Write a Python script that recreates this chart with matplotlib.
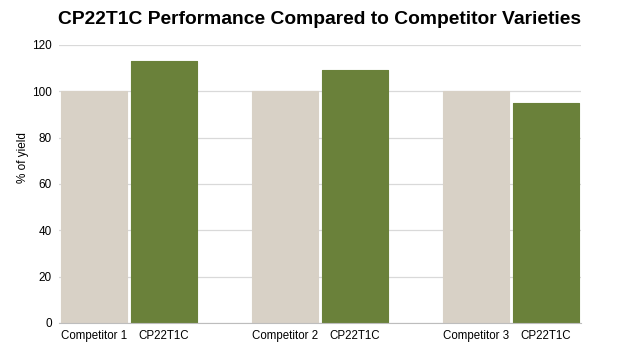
import numpy as np
import matplotlib
matplotlib.use('Agg')
import matplotlib.pyplot as plt

plt.rcParams['font.family'] = ['Liberation Sans', 'DejaVu Sans']

groups = ['Competitor 1', 'Competitor 2', 'Competitor 3']
competitor_vals = [100, 100, 100]
cp_vals = [113, 109, 95]
cp_name = 'CP22T1C'
yticks = [0, 20, 40, 60, 80, 100, 120]

beige = '#d8d1c6'
green = '#6a813a'

fig = plt.figure(figsize=(6.2, 3.51), dpi=100)
ax = fig.add_axes([0.095, 0.08, 0.842, 0.792])

x = np.arange(len(groups))
w = 0.345
gap = 0.02
ax.bar(x - w / 2 - gap / 2, competitor_vals, w, color=beige, edgecolor=beige,
       linewidth=0.8, joinstyle='round', zorder=3)
ax.bar(x + w / 2 + gap / 2, cp_vals, w, color=green, edgecolor=green,
       linewidth=0.8, joinstyle='round', zorder=3)

ax.set_xlim(-0.365, 2.365)
ax.set_ylim(0, 120)
ax.set_yticks(yticks)
ax.tick_params(axis='y', length=0, labelsize=8.5, pad=5)
pos = np.concatenate([[xi - w / 2 - gap / 2, xi + w / 2 + gap / 2] for xi in x])
labels = []
for g in groups:
    labels += [g, cp_name]
ax.set_xticks(pos)
ax.set_xticklabels(labels, fontsize=8.3)
ax.tick_params(axis='x', length=0, pad=5)

ax.grid(axis='y', color='#d9d9d9', linewidth=0.9, zorder=0)
for s in ['top', 'right', 'left']:
    ax.spines[s].set_visible(False)
ax.spines['bottom'].set_color('#bdbdbd')
ax.spines['bottom'].set_zorder(4)

ax.set_ylabel('% of yield', fontsize=8.5)
ax.yaxis.set_label_coords(-0.057, 0.594)
fig.suptitle('CP22T1C Performance Compared to Competitor Varieties',
             fontsize=13.9, fontweight='bold', x=0.516, y=0.97)

fig.savefig('out.png', dpi=100)
